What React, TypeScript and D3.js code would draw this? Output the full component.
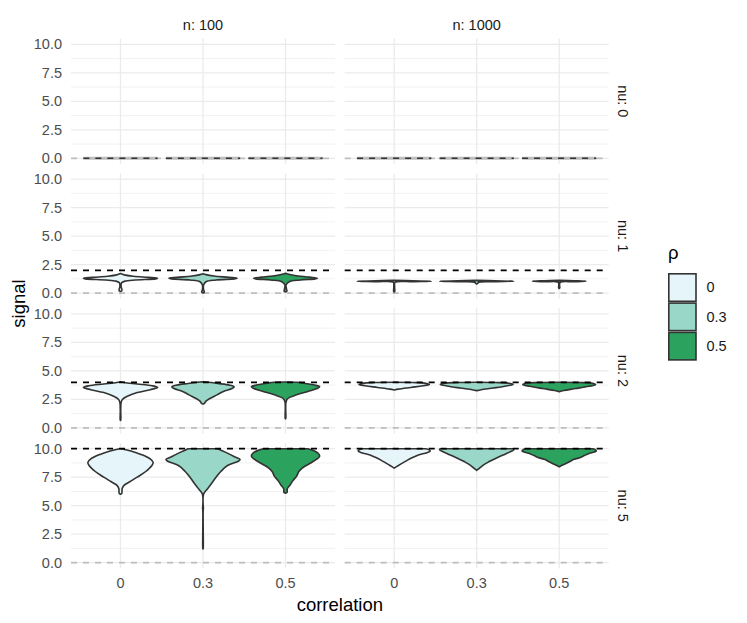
import React from "react";
import * as d3 from "d3";

type Profile = [number, number][]; // [signal, relative half-width]

const nuLevels = [0, 1, 2, 5];
const nLevels = [100, 1000];
const rhoLevels = ["0", "0.3", "0.5"];
const rhoColors = ["#E5F5F9", "#99D8C9", "#2CA25F"];
const targetSignal = [0, 2, 4, 10];
const yTicks = [0, 2.5, 5, 7.5, 10];
const yMinor = [1.25, 3.75, 6.25, 8.75];

// nu = 1
const nu1n100: Profile[] = [
  [[0.15, 0], [0.2, 0.035], [0.35, 0.035], [0.6, 0.015], [0.9, 0.03], [1.05, 0.12], [1.15, 0.4], [1.25, 0.95], [1.3, 1.0], [1.38, 0.75], [1.48, 0.35], [1.6, 0.1], [1.72, 0]],
  [[0.02, 0], [0.08, 0.035], [0.3, 0.015], [0.7, 0.015], [1.0, 0.08], [1.15, 0.35], [1.25, 0.85], [1.3, 0.92], [1.38, 0.7], [1.5, 0.3], [1.62, 0.08], [1.7, 0]],
  [[0.1, 0], [0.15, 0.035], [0.4, 0.025], [0.7, 0.015], [1.0, 0.1], [1.15, 0.4], [1.25, 0.8], [1.3, 0.86], [1.4, 0.65], [1.55, 0.25], [1.68, 0.06], [1.75, 0]],
];
const nu1n1000: Profile[] = [
  [[0.1, 0], [0.15, 0.015], [0.6, 0.01], [0.95, 0.025], [1.0, 0.5], [1.04, 1.0], [1.08, 0.5], [1.12, 0]],
  [[0.8, 0], [0.85, 0.03], [0.95, 0.05], [1.0, 0.5], [1.04, 1.0], [1.08, 0.5], [1.12, 0]],
  [[0.4, 0], [0.45, 0.015], [0.8, 0.01], [0.97, 0.035], [1.0, 0.4], [1.04, 0.72], [1.08, 0.4], [1.12, 0]],
];
// nu = 2
const nu2n100: Profile[] = [
  [[0.65, 0], [0.7, 0.008], [1.5, 0.006], [2.2, 0.015], [2.5, 0.05], [2.8, 0.2], [3.1, 0.45], [3.35, 0.8], [3.55, 1.0], [3.7, 0.85], [3.85, 0.45], [3.98, 0.1], [4.05, 0]],
  [[2.1, 0], [2.15, 0.04], [2.35, 0.08], [2.6, 0.2], [2.9, 0.38], [3.2, 0.55], [3.45, 0.78], [3.6, 0.84], [3.75, 0.72], [3.9, 0.4], [4.0, 0.15], [4.05, 0]],
  [[0.8, 0], [0.85, 0.008], [1.6, 0.006], [2.3, 0.015], [2.6, 0.07], [2.9, 0.3], [3.2, 0.6], [3.45, 0.85], [3.6, 0.92], [3.75, 0.8], [3.92, 0.5], [4.0, 0.3], [4.02, 0]],
];
const nu2n1000: Profile[] = [
  [[3.33, 0], [3.4, 0.12], [3.55, 0.45], [3.7, 0.78], [3.82, 0.95], [3.92, 0.85], [3.98, 0.5], [4.0, 0]],
  [[3.27, 0], [3.35, 0.12], [3.5, 0.45], [3.68, 0.8], [3.82, 0.98], [3.92, 0.88], [3.98, 0.5], [4.0, 0]],
  [[3.18, 0], [3.28, 0.12], [3.45, 0.45], [3.65, 0.8], [3.8, 0.98], [3.92, 0.9], [3.98, 0.55], [4.0, 0]],
];
// nu = 5
const nu5n100: Profile[] = [
  [[6.0, 0], [6.08, 0.035], [6.5, 0.045], [6.8, 0.1], [7.1, 0.25], [7.5, 0.45], [8.0, 0.68], [8.5, 0.84], [8.8, 0.88], [9.1, 0.8], [9.5, 0.55], [9.8, 0.28], [10.0, 0.02]],
  [[1.2, 0], [1.28, 0.006], [3.0, 0.005], [4.6, 0.005], [4.8, 0.012], [5.0, 0.005], [6.0, 0.015], [6.4, 0.1], [6.9, 0.22], [7.5, 0.35], [8.0, 0.48], [8.5, 0.65], [8.9, 0.95], [9.05, 1.0], [9.3, 0.85], [9.7, 0.6], [10.0, 0.4]],
  [[6.1, 0], [6.15, 0.04], [6.5, 0.05], [6.8, 0.12], [7.2, 0.2], [7.6, 0.3], [8.0, 0.36], [8.3, 0.45], [8.7, 0.65], [9.1, 0.85], [9.35, 0.92], [9.6, 0.88], [9.85, 0.75], [10.0, 0.6]],
];
const nu5n1000: Profile[] = [
  [[8.3, 0], [8.4, 0.05], [8.6, 0.15], [8.8, 0.25], [9.0, 0.36], [9.2, 0.48], [9.45, 0.65], [9.65, 0.88], [9.8, 0.97], [9.9, 0.95], [10.0, 0.85]],
  [[8.1, 0], [8.2, 0.04], [8.5, 0.15], [8.8, 0.3], [9.2, 0.55], [9.5, 0.75], [9.75, 0.92], [9.9, 1.0], [10.0, 0.98]],
  [[8.4, 0], [8.5, 0.05], [8.7, 0.18], [8.9, 0.3], [9.05, 0.38], [9.2, 0.55], [9.4, 0.68], [9.6, 0.82], [9.8, 1.0], [9.95, 0.95], [10.0, 0.9]],
];

const violins: (Profile[] | null)[][] = [
  [null, null],
  [nu1n100, nu1n1000],
  [nu2n100, nu2n1000],
  [nu5n100, nu5n1000],
];

const W = 747;
const H = 623;
const left = 71;
const top = 38.6;
const panelW = 264;
const panelH = 125.4;
const gapX = 9.7;
const gapY = 9.4;
const font = "'Liberation Sans', Arial, Helvetica, sans-serif";
const tickSize = 14.5;
const titleSize = 18.5;

export default function App() {
  const x = d3.scalePoint<string>().domain(rhoLevels).range([0, panelW]).padding(0.6);
  const y = d3.scaleLinear().domain([-0.5, 10.5]).range([panelH, 0]);
  const hw = x.step() * 0.45;

  const panels: React.ReactNode[] = [];
  nuLevels.forEach((nu, i) => {
    nLevels.forEach((n, j) => {
      const px = left + j * (panelW + gapX);
      const py = top + i * (panelH + gapY);
      const profs = violins[i][j];
      panels.push(
        <g key={`${i}-${j}`} transform={`translate(${px},${py})`}>
          {yMinor.map((t) => (
            <line key={`m${t}`} x1={0} x2={panelW} y1={y(t)} y2={y(t)} stroke="#EBEBEB" strokeWidth={0.7} />
          ))}
          {yTicks.map((t) => (
            <line key={`g${t}`} x1={0} x2={panelW} y1={y(t)} y2={y(t)} stroke="#EBEBEB" strokeWidth={1.3} />
          ))}
          {rhoLevels.map((r) => (
            <line key={`v${r}`} x1={x(r)} x2={x(r)} y1={0} y2={panelH} stroke="#EBEBEB" strokeWidth={1.3} />
          ))}
          <line x1={0} x2={panelW} y1={y(0)} y2={y(0)} stroke="#BEBEBE" strokeWidth={1.8} strokeDasharray="6 6" />
          {profs
            ? profs.map((p, k) => {
                const cx = x(rhoLevels[k])!;
                const area = d3
                  .area<[number, number]>()
                  .y((d) => y(d[0]))
                  .x0((d) => cx - d[1] * hw)
                  .x1((d) => cx + d[1] * hw)
                  .curve(d3.curveCatmullRom);
                return (
                  <path key={k} d={area(p) ?? ""} fill={rhoColors[k]} stroke="#333333" strokeWidth={1.6} strokeLinejoin="round" />
                );
              })
            : rhoLevels.map((r) => (
                <g key={`z${r}`}>
                  <line x1={x(r)! - hw} x2={x(r)! + hw} y1={y(0)} y2={y(0)} stroke="#BDBDBD" strokeWidth={3} />
                  <line x1={x(r)! - hw} x2={x(r)! + hw} y1={y(0)} y2={y(0)} stroke="#333" strokeWidth={1.5} strokeDasharray="6 6" />
                </g>
              ))}
          {profs && (
            <line x1={0} x2={panelW} y1={y(targetSignal[i])} y2={y(targetSignal[i])} stroke="#000" strokeWidth={1.8} strokeDasharray="6 6" />
          )}
          {j === 0 &&
            yTicks.map((t) => (
              <text key={`t${t}`} x={-9} y={y(t)} textAnchor="end" dominantBaseline="central" fontSize={tickSize} fill="#4D4D4D">
                {t.toFixed(1)}
              </text>
            ))}
          {i === nuLevels.length - 1 &&
            rhoLevels.map((r) => (
              <text key={`x${r}`} x={x(r)} y={panelH + 15} textAnchor="middle" dominantBaseline="central" fontSize={tickSize} fill="#4D4D4D">
                {r}
              </text>
            ))}
          {i === 0 && (
            <text x={panelW / 2} y={-13.5} textAnchor="middle" dominantBaseline="central" fontSize={tickSize} fill="#1A1A1A">
              {`n: ${n}`}
            </text>
          )}
          {j === nLevels.length - 1 && (
            <text
              transform={`translate(${panelW + 14},${panelH / 2}) rotate(90)`}
              textAnchor="middle"
              dominantBaseline="central"
              fontSize={tickSize}
              fill="#1A1A1A"
            >
              {`nu: ${nu}`}
            </text>
          )}
        </g>
      );
    });
  });

  const plotBottom = top + 4 * panelH + 3 * gapY;
  const plotRight = left + 2 * panelW + gapX;

  return (
    <svg width={W} height={H} style={{ position: "absolute", left: 0, top: 0, fontFamily: font, background: "#fff" }}>
      <rect width={W} height={H} fill="#fff" />
      {panels}
      <text
        transform={`translate(18,${(top + plotBottom) / 2}) rotate(-90)`}
        textAnchor="middle"
        dominantBaseline="central"
        fontSize={titleSize}
        fill="#000"
      >
        signal
      </text>
      <text x={(left + plotRight) / 2} y={604} textAnchor="middle" dominantBaseline="central" fontSize={titleSize} fill="#000">
        correlation
      </text>
      <g transform="translate(668,0)">
        <text x={0} y={252} dominantBaseline="central" fontSize={titleSize} fill="#000">
          ρ
        </text>
        {rhoLevels.map((r, k) => (
          <g key={r} transform={`translate(0,${273 + k * 29.3})`}>
            <rect x={0.8} y={0.8} width={27.2} height={27.5} fill={rhoColors[k]} stroke="#333333" strokeWidth={1.6} />
            <text x={38.5} y={14.3} dominantBaseline="central" fontSize={tickSize} fill="#1A1A1A">
              {r}
            </text>
          </g>
        ))}
      </g>
    </svg>
  );
}
